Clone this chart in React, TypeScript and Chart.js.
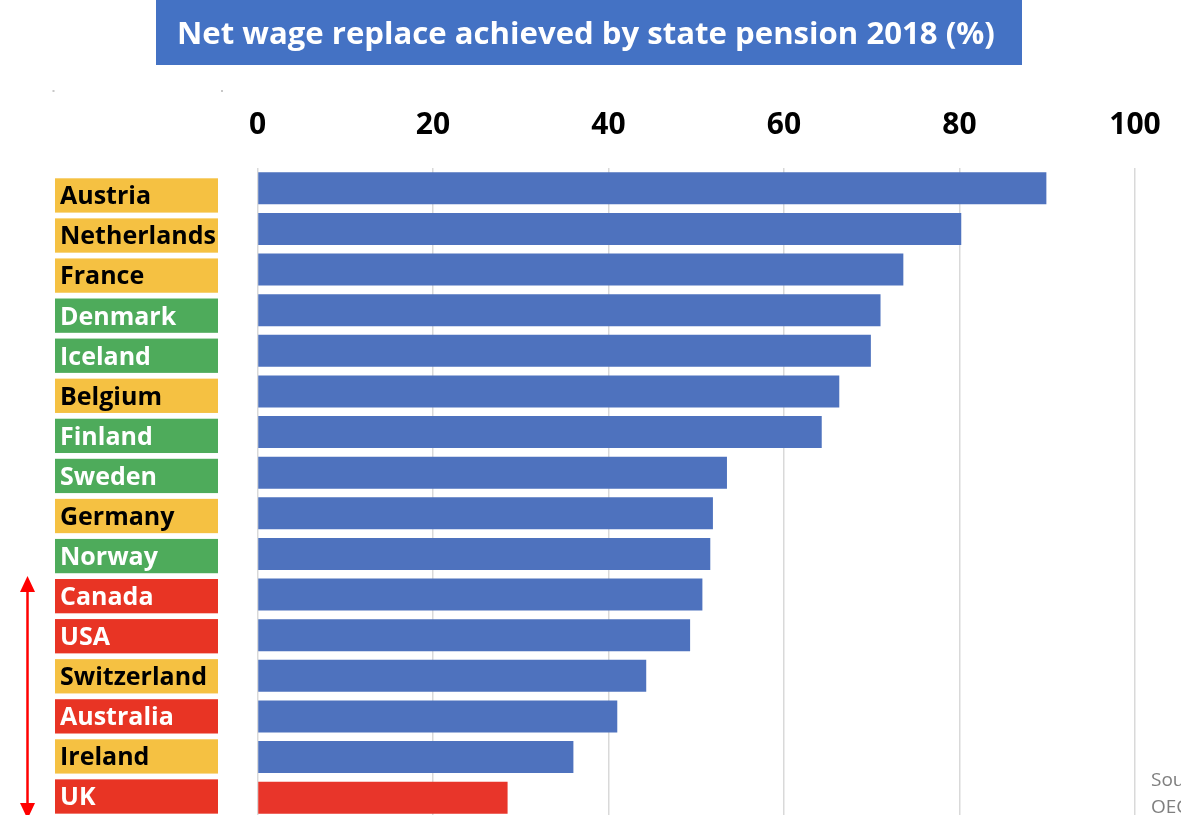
import React, { useEffect, useRef } from "react";
import { Chart, registerables } from "chart.js";

Chart.register(...registerables);

const countries = [
  "Austria", "Netherlands", "France", "Denmark", "Iceland", "Belgium", "Finland", "Sweden",
  "Germany", "Norway", "Canada", "USA", "Switzerland", "Australia", "Ireland", "UK",
];
const replacementRates = [89.9, 80.2, 73.6, 71.0, 69.9, 66.3, 64.3, 53.5, 51.9, 51.6, 50.7, 49.3, 44.3, 41.0, 36.0, 28.5];
// y = yellow, g = green, r = red label group
const labelGroups = ["y", "y", "y", "g", "g", "y", "g", "g", "y", "g", "r", "r", "y", "r", "y", "r"];
const xTickValues = [0, 20, 40, 60, 80, 100];
const titleText = "Net wage replace achieved by state pension 2018 (%)";
const sourceLines = ["Source:", "OECD"];
const highlighted = "UK";

const BLUE = "#4E72BE";
const RED_BAR = "#E8352A";
const GROUP_FILL: Record<string, string> = { y: "#F5C142", g: "#4EAB5B", r: "#E83424" };
const GROUP_TEXT: Record<string, string> = { y: "#000000", g: "#FFFFFF", r: "#FFFFFF" };
const FONT = '"Open Sans", "DejaVu Sans", sans-serif';

const decorPlugin = {
  id: "decor",
  beforeDraw(chart: any) {
    const ctx: CanvasRenderingContext2D = chart.ctx;
    ctx.save();
    ctx.fillStyle = "#FFFFFF";
    ctx.fillRect(0, 0, chart.width, chart.height);

    // title box
    ctx.fillStyle = "#4472C4";
    ctx.fillRect(156, 0, 866, 65);
    let size = 32;
    ctx.font = `bold ${size}px ${FONT}`;
    const w = ctx.measureText(titleText).width;
    size = size * 818 / w;
    ctx.font = `bold ${size}px ${FONT}`;
    ctx.fillStyle = "#FFFFFF";
    ctx.textAlign = "left";
    ctx.textBaseline = "alphabetic";
    ctx.fillText(titleText, 177, 44);

    // small dots
    ctx.fillStyle = "#C8C8C8";
    ctx.fillRect(52.5, 90, 2, 2);
    ctx.fillRect(221, 90, 2, 2);

    // country label boxes
    ctx.font = `bold 25px ${FONT}`;
    const labels: string[] = chart.data.labels;
    labels.forEach((name, i) => {
      const top = 178.3 + i * 40.07;
      const g = labelGroups[i];
      ctx.fillStyle = GROUP_FILL[g];
      ctx.fillRect(55, top, 163, 34.3);
      ctx.fillStyle = GROUP_TEXT[g];
      ctx.fillText(name, 60, top + 26);
    });

    // red double arrow
    ctx.strokeStyle = "#FF0000";
    ctx.fillStyle = "#FF0000";
    ctx.lineWidth = 2.5;
    ctx.beginPath();
    ctx.moveTo(27.5, 588);
    ctx.lineTo(27.5, 806);
    ctx.stroke();
    ctx.beginPath();
    ctx.moveTo(27.5, 576);
    ctx.lineTo(35, 592);
    ctx.lineTo(20, 592);
    ctx.closePath();
    ctx.fill();
    ctx.beginPath();
    ctx.moveTo(27.5, 819);
    ctx.lineTo(35, 803);
    ctx.lineTo(20, 803);
    ctx.closePath();
    ctx.fill();

    // source text (cut at right edge)
    ctx.fillStyle = "#7F7F7F";
    ctx.font = `19px ${FONT}`;
    ctx.fillText(sourceLines[0], 1151, 786);
    ctx.fillText(sourceLines[1], 1151, 813);
    ctx.restore();
  },
};

export default function App() {
  const ref = useRef<HTMLCanvasElement | null>(null);
  useEffect(() => {
    document.body.style.margin = "0";
    document.body.style.overflow = "hidden";
    const canvas = ref.current!;
    const chart = new Chart(canvas, {
      type: "bar",
      data: {
        labels: countries,
        datasets: [
          {
            data: replacementRates,
            backgroundColor: countries.map((c) => (c === highlighted ? RED_BAR : BLUE)),
            borderWidth: 0,
            categoryPercentage: 1,
            barPercentage: 0.79,
          },
        ],
      },
      options: {
        indexAxis: "y",
        responsive: false,
        animation: false,
        devicePixelRatio: 1,
        layout: { padding: { left: 257.5, right: 46, top: 82, bottom: 12 } },
        scales: {
          x: {
            position: "top",
            min: 0,
            max: 100,
            afterBuildTicks: (scale: any) => {
              scale.ticks = xTickValues.map((v) => ({ value: v }));
            },
            afterFit: (scale: any) => {
              scale.paddingLeft = 0;
              scale.paddingRight = 0;
            },
            grid: { color: "#D9D9D9", lineWidth: 1.5, drawTicks: false },
            border: { display: false },
            ticks: {
              font: { family: FONT, weight: "bold", size: 30 },
              color: "#000000",
              padding: 25,
              maxRotation: 0,
            },
          },
          y: { display: false },
        },
        plugins: {
          legend: { display: false },
          tooltip: { enabled: false },
          title: { display: false },
        },
      },
      plugins: [decorPlugin],
    } as any);
    return () => chart.destroy();
  }, []);
  return (
    <div style={{ position: "fixed", left: 0, top: 0, width: 1181, height: 815, overflow: "hidden", background: "#fff" }}>
      <canvas ref={ref} width={1181} height={830} style={{ display: "block", width: 1181, height: 830 }} />
    </div>
  );
}
